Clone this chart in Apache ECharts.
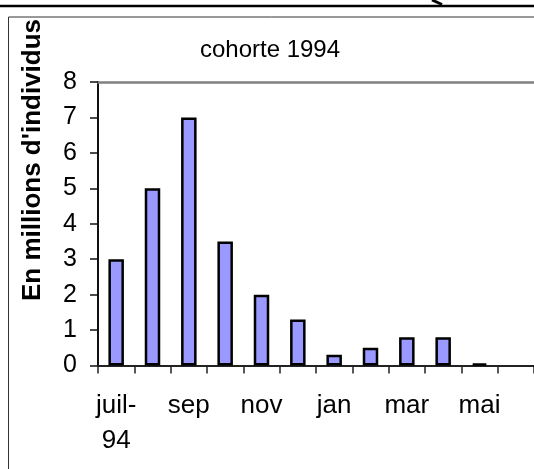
<!DOCTYPE html>
<html>
<head>
<meta charset="utf-8">
<script src="https://cdn.jsdelivr.net/npm/echarts@6/dist/echarts.min.js"></script>
<style>
  html, body { margin: 0; padding: 0; background: #fff; }
  #chart { width: 534px; height: 469px; }
</style>
</head>
<body>
<div id="chart"></div>
<script>
// Monthly counts for the 1994 cohort (millions of individuals)
const months = ['juil-94', 'aoû', 'sep', 'oct', 'nov', 'déc', 'jan', 'fév', 'mar', 'avr', 'mai', 'juin'];
const individus = [3, 5, 7, 3.5, 2, 1.3, 0.3, 0.5, 0.8, 0.8, 0.05, '-'];
const yTicks = [0, 1, 2, 3, 4, 5, 6, 7, 8];

const chartTitle = 'cohorte 1994';
const yName = "En millions d'individus";

const font = '"Liberation Sans", Arial, sans-serif';
const chart = echarts.init(document.getElementById('chart'), null, { renderer: 'canvas' });

chart.setOption({
  backgroundColor: '#fff',
  animation: false,
  grid: { left: 98, top: 82, width: 444.5, height: 283.5, containLabel: false },
  xAxis: [
    {
      type: 'category',
      data: months,
      position: 'bottom',
      axisLine: { lineStyle: { color: '#222', width: 2 } },
      axisTick: { show: true, interval: 0, length: 8, lineStyle: { color: '#222', width: 1.5 } },
      axisLabel: {
        interval: 1,
        margin: 23,
        color: '#000',
        fontFamily: font,
        fontSize: 26,
        lineHeight: 35,
        formatter: v => v.replace('-', '-\n')
      }
    },
    {
      type: 'category',
      data: months,
      position: 'top',
      axisLine: { lineStyle: { color: '#808080', width: 2.5 } },
      axisTick: { show: false },
      axisLabel: { show: false }
    }
  ],
  yAxis: {
    type: 'value',
    min: yTicks[0],
    max: yTicks[yTicks.length - 1],
    interval: 1,
    axisLine: { show: true, lineStyle: { color: '#111', width: 2 } },
    axisTick: { show: true, length: 8, lineStyle: { color: '#111', width: 1.5 } },
    splitLine: { show: false },
    axisLabel: { margin: 21, color: '#000', fontFamily: font, fontSize: 25 }
  },
  series: [{
    type: 'bar',
    data: individus,
    barWidth: 15.5,
    itemStyle: { color: '#9999ff', borderColor: '#000', borderWidth: 2.5 }
  }],
  graphic: [
    { type: 'line', shape: { x1: 0, y1: 6, x2: 534, y2: 6 }, style: { stroke: '#000', lineWidth: 2.5 } },
    { type: 'line', shape: { x1: 432, y1: 0, x2: 442, y2: 4.5 }, style: { stroke: '#000', lineWidth: 3 } },
    { type: 'rect', shape: { x: 8.5, y: 17, width: 600, height: 500 }, style: { fill: 'none', stroke: '#333', lineWidth: 1 } },
    {
      type: 'text', x: 270, y: 50,
      style: { text: chartTitle, font: '24px ' + font, fill: '#000', align: 'center', verticalAlign: 'middle' }
    },
    {
      type: 'text', x: 33, y: 160, rotation: Math.PI / 2,
      style: { text: yName, font: 'bold 26px ' + font, fill: '#000', align: 'center', verticalAlign: 'middle' }
    }
  ]
});
</script>
</body>
</html>
